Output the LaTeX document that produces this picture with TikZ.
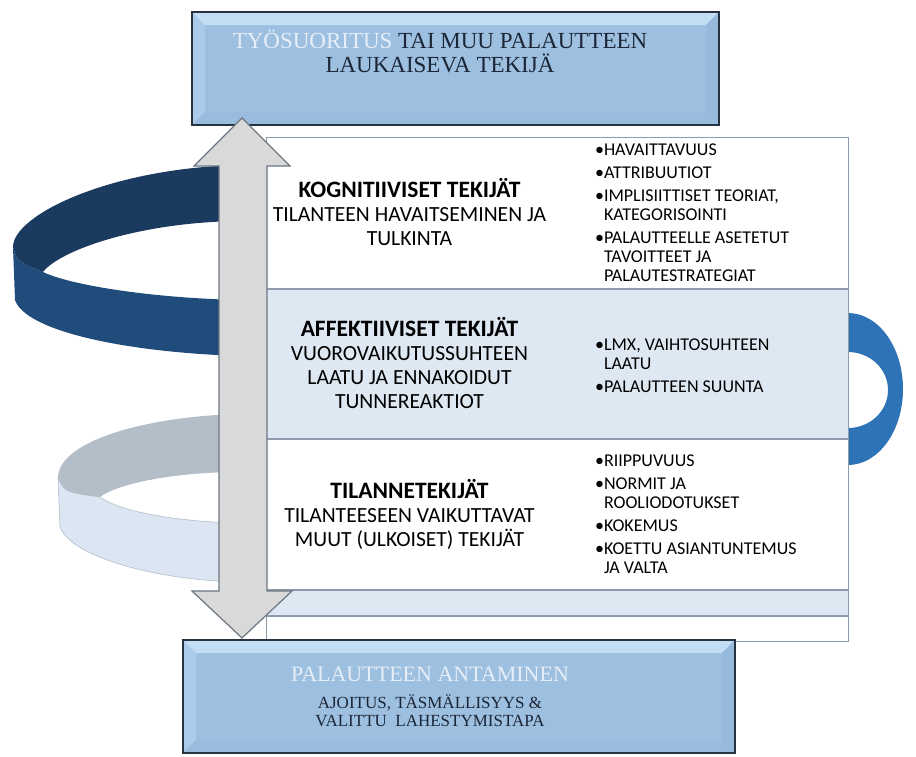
\documentclass[tikz,border=0pt]{standalone}
\usepackage{fontspec}
\setmainfont{Carlito}
\newfontfamily\boxserif{Liberation Serif}
\usetikzlibrary{calc,positioning}

\definecolor{boxfill}{HTML}{9DBFE0}
\definecolor{boxline}{HTML}{27323F}
\definecolor{boxtop}{HTML}{C3DEF3}
\definecolor{boxleft}{HTML}{AACBEA}
\definecolor{boxright}{HTML}{96B9DD}
\definecolor{boxbottom}{HTML}{99BCDE}
\definecolor{paletext}{HTML}{E6EEF7}
\definecolor{darktext}{HTML}{1B2637}
\definecolor{cardline}{HTML}{8D9CAD}
\definecolor{cardblue}{HTML}{DEE8F3}
\definecolor{navyback}{HTML}{1B3A5F}
\definecolor{navyfront}{HTML}{1F4C7A}
\definecolor{ringblue}{HTML}{2E73B5}
\definecolor{paleback}{HTML}{B4BEC9}
\definecolor{palefront}{HTML}{DCE6F2}
\definecolor{arrowfill}{HTML}{D9D9D9}
\definecolor{arrowline}{HTML}{6B7682}

\newcommand{\Bevel}{13pt}
\tikzset{Box/.style={
    inner sep=0pt,
    draw=boxline,
    line width=2pt,
    fill=boxfill,
    path picture={
      \path (path picture bounding box.north west) coordinate (pNW)
            (path picture bounding box.north east) coordinate (pNE)
            (path picture bounding box.south east) coordinate (pSE)
            (path picture bounding box.south west) coordinate (pSW);
      \fill[boxtop] (pNW) -- (pNE) -- ($(pNE)+(-\Bevel,-\Bevel)$) -- ($(pNW)+(\Bevel,-\Bevel)$) -- cycle;
      \fill[boxleft] (pNW) -- ($(pNW)+(\Bevel,-\Bevel)$) -- ($(pSW)+(\Bevel,\Bevel)$) -- (pSW) -- cycle;
      \fill[boxright] (pNE) -- ($(pNE)+(-\Bevel,-\Bevel)$) -- ($(pSE)+(-\Bevel,\Bevel)$) -- (pSE) -- cycle;
      \fill[boxbottom] (pSW) -- ($(pSW)+(\Bevel,\Bevel)$) -- ($(pSE)+(-\Bevel,\Bevel)$) -- (pSE) -- cycle;
    }
  }
}

\begin{document}
\begin{tikzpicture}[x=1pt, y=1pt,
    card/.style={inner sep=0pt, draw=cardline, line width=1pt,
      minimum width=582pt, fill=white},
    heading/.style={align=center, text=black, font=\fontsize{21.6}{24}\selectfont},
    bullets/.style={align=left, anchor=west, text=black, font=\fontsize{18}{18.8}\selectfont},
    boxtext/.style={align=center, text=darktext, font=\boxserif},
]
\useasboundingbox (0,0) rectangle (916,-756);

% spiral ribbon: dark upper turn
\fill[navyfront] (13,-247) .. controls (18,-262) .. (43,-272)
    .. controls (70,-285) and (150,-298) .. (240,-300) -- (240,-356)
    .. controls (120,-352) and (25,-330) .. (15,-300) -- cycle;
\fill[navyback] (240,-165) .. controls (110,-168) and (13,-215) .. (13,-247)
    .. controls (18,-262) .. (43,-272)
    .. controls (60,-250) and (140,-222) .. (240,-221) -- cycle;
% turn behind the cards
\fill[ringblue, even odd rule] (848,-389) ellipse [x radius=55, y radius=76]
    (848,-390) ellipse [x radius=40, y radius=38];
% pale lower turn
\filldraw[palefront, draw=paleback, line width=0.6pt] (58,-478) .. controls (65,-492) .. (100,-497)
    .. controls (120,-512) and (180,-522) .. (240,-523) -- (240,-582)
    .. controls (150,-580) and (70,-555) .. (60,-527) -- cycle;
\fill[paleback] (240,-414) .. controls (150,-416) and (58,-440) .. (58,-478)
    .. controls (65,-492) .. (100,-497)
    .. controls (115,-485) and (170,-472) .. (240,-472) -- cycle;

% stacked cards
\node[card, minimum height=151pt] (cogn) at (557,-212.5) {};
\node[card, minimum height=149pt, fill=cardblue, below=0pt of cogn] (affect) {};
\node[card, minimum height=150pt, below=0pt of affect] (situ) {};
\node[card, minimum height=25pt, fill=cardblue, below=0pt of situ] (stripA) {};
\node[card, minimum height=25pt, below=0pt of stripA] (stripB) {};

\node[heading] (cognH) at ($(cogn.west)+(144,0)$)
  {{\fontsize{23.5}{26}\selectfont\bfseries KOGNITIIVISET TEKIJÄT}\\TILANTEEN HAVAITSEMINEN JA\\TULKINTA};
\node[bullets] (cognL) at ($(cogn.west)+(326,0)$)
  {•HAVAITTAVUUS\\[4.5pt]•ATTRIBUUTIOT\\[4.5pt]
   •IMPLISIITTISET TEORIAT,\\\hphantom{•}KATEGORISOINTI\\[4.5pt]
   •PALAUTTEELLE ASETETUT\\\hphantom{•}TAVOITTEET JA\\\hphantom{•}PALAUTESTRATEGIAT};

\node[heading] (affectH) at ($(affect.west)+(144,0)$)
  {{\fontsize{23.5}{26}\selectfont\bfseries AFFEKTIIVISET TEKIJÄT}\\VUOROVAIKUTUSSUHTEEN\\LAATU JA ENNAKOIDUT\\TUNNEREAKTIOT};
\node[bullets] (affectL) at ($(affect.west)+(326,-2)$)
  {•LMX, VAIHTOSUHTEEN\\\hphantom{•}LAATU\\[4.5pt]•PALAUTTEEN SUUNTA};

\node[heading] (situH) at ($(situ.west)+(144,0)$)
  {{\fontsize{23.5}{26}\selectfont\bfseries TILANNETEKIJÄT}\\TILANTEESEEN VAIKUTTAVAT\\MUUT (ULKOISET) TEKIJÄT};
\node[bullets] (situL) at ($(situ.west)+(326,0)$)
  {•RIIPPUVUUS\\[4.5pt]•NORMIT JA\\\hphantom{•}ROOLIODOTUKSET\\[4.5pt]
   •KOKEMUS\\[4.5pt]•KOETTU ASIANTUNTEMUS\\\hphantom{•}JA VALTA};

% top and bottom boxes
\node[Box, minimum width=527pt, minimum height=113pt] (trigger) at (455.5,-68.5) {};
\node[boxtext, font=\boxserif\fontsize{23}{24}\selectfont] (triggerT) at (440,-51)
  {\textcolor{paletext}{TYÖSUORITUS} TAI MUU PALAUTTEEN\\LAUKAISEVA TEKIJÄ};
\node[Box, minimum width=552pt, minimum height=113pt] (giving) at (459,-696.5) {};
\node[boxtext, font=\boxserif\fontsize{17}{18}\selectfont] (givingT) at (430,-697)
  {{\fontsize{22}{24}\selectfont\textcolor{paletext}{PALAUTTEEN ANTAMINEN}}\\[9pt]
   AJOITUS, TÄSMÄLLISYYS \&\\VALITTU\ \ LAHESTYMISTAPA};

% double block arrow between the boxes
\coordinate (tipU) at ($(trigger.south west)+(51,8)$);
\coordinate (tipD) at ($(giving.north west)+(60,1)$);
\filldraw[fill=arrowfill, draw=arrowline, line width=1.2pt, line join=miter]
  (tipU) -- ++(48,-48) -- ++(-23,0) |- ($(tipD)+(50,47)$) -- (tipD)
  -- ++(-50,47) -- ++(27,0) |- ($(tipU)+(-48,-48)$) -- cycle;
\end{tikzpicture}
\end{document}
